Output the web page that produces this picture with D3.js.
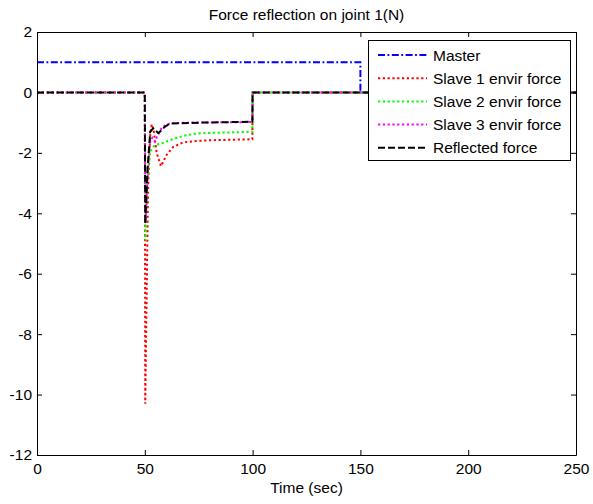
<!DOCTYPE html>
<html>
<head>
<meta charset="utf-8">
<script src="https://cdn.jsdelivr.net/npm/d3@7"></script>
<style>
  body { margin: 0; background: #fff; }
  text { font-family: "Liberation Sans", Arial, sans-serif; fill: #000; }
</style>
</head>
<body>
<script>
// Tidsvärden och serier
var masterT = [0, 150, 150, 250];
var masterV = [1, 1, 0, 0];

var slave1T = [0, 50, 50.2, 51.5, 52.5, 53.2, 54.2, 55.5, 57.5, 60.1, 63.2, 67.9, 75, 81.8, 99.9, 100, 250];
var slave1V = [0, 0, -10.3, -3.2, -1.4, -1.05, -1.3, -2.0, -2.44, -2.07, -1.8, -1.65, -1.6, -1.58, -1.55, 0, 0];

var slave2T = [0, 50, 50.3, 51, 52.4, 54.7, 57.8, 61.7, 66.3, 69.4, 75.6, 91, 99.9, 100, 250];
var slave2V = [0, 0, -4.9, -3.0, -1.96, -1.74, -1.69, -1.58, -1.47, -1.41, -1.35, -1.32, -1.3, 0, 0];

var slave3T = [0, 50, 50.3, 51.5, 52.5, 53.5, 54.7, 55.6, 58, 61.7, 70, 99.9, 100, 250];
var slave3V = [0, 0, -4.3, -2.5, -1.6, -1.5, -1.63, -1.47, -1.15, -1.02, -1.0, -0.98, 0, 0];

var reflT = [0, 50, 50.2, 51.3, 52.5, 53.9, 56.3, 59.4, 61.7, 75.6, 99.9, 100, 250];
var reflV = [0, 0, -4.35, -2.5, -1.3, -1.19, -1.35, -1.13, -1.03, -1.0, -0.97, 0, 0];

var xTicks = [0, 50, 100, 150, 200, 250];
var yTicks = [2, 0, -2, -4, -6, -8, -10, -12];
var legendNames = ["Master", "Slave 1 envir force", "Slave 2 envir force", "Slave 3 envir force", "Reflected force"];

drawChart();

function drawChart() {
var W = 593, H = 504;
// axlarnas kanter i pixlar
var pLeft = 37, pRight = 576, pTop = 32, pBottom = 455;
var fs = "15.5px";

var svg = d3.select("body").append("svg")
    .attr("width", W)
    .attr("height", H);

var xScale = d3.scaleLinear().domain([0, 250]).range([pLeft, pRight]);
var yScale = d3.scaleLinear().domain([-12, 2]).range([pBottom, pTop]);

// Serierna: färg och streckmönster som i MATLAB
var series = [
  { t: masterT, v: masterV, color: "#0000ff", dash: "7,2.5,1.8,2.5" },
  { t: slave1T, v: slave1V, color: "#ff0000", dash: "2.2,2.6" },
  { t: slave2T, v: slave2V, color: "#00ff00", dash: "2.2,2.6" },
  { t: slave3T, v: slave3V, color: "#ff00ff", dash: "2.2,2.6" },
  { t: reflT, v: reflV, color: "#000000", dash: "7,3" }
];

var line = d3.line()
    .x(function(d) { return xScale(d[0]); })
    .y(function(d) { return yScale(d[1]); });

svg.append("clipPath").attr("id", "clip")
  .append("rect").attr("x", pLeft).attr("y", pTop)
  .attr("width", pRight - pLeft).attr("height", pBottom - pTop);

series.forEach(function(s) {
  var pts = s.t.map(function(t, i) { return [t, s.v[i]]; });
  svg.append("path")
    .attr("d", line(pts))
    .attr("clip-path", "url(#clip)")
    .attr("fill", "none")
    .attr("stroke", s.color)
    .attr("stroke-width", 2)
    .attr("stroke-dasharray", s.dash);
});

// Axlar med ticks inåt på alla fyra sidor
var fmt = function(d) { return String(d); };
svg.append("g")
  .attr("transform", "translate(0," + pBottom + ")")
  .call(d3.axisBottom(xScale).tickValues(xTicks).tickFormat(fmt).tickSizeInner(-5).tickSizeOuter(0).tickPadding(8));
svg.append("g")
  .attr("transform", "translate(0," + pTop + ")")
  .call(d3.axisTop(xScale).tickValues(xTicks).tickFormat("").tickSizeInner(-5).tickSizeOuter(0));
svg.append("g")
  .attr("transform", "translate(" + pLeft + ",0)")
  .call(d3.axisLeft(yScale).tickValues(yTicks).tickFormat(fmt).tickSizeInner(-5).tickSizeOuter(0).tickPadding(5));
svg.append("g")
  .attr("transform", "translate(" + pRight + ",0)")
  .call(d3.axisRight(yScale).tickValues(yTicks).tickFormat("").tickSizeInner(-5).tickSizeOuter(0));

svg.selectAll(".tick text").style("font-size", fs).attr("fill", "#000");
svg.selectAll(".domain, .tick line").attr("stroke", "#000");

// Titel och axeltext
svg.append("text")
  .attr("x", (pLeft + pRight) / 2).attr("y", 20)
  .attr("text-anchor", "middle")
  .style("font-size", fs)
  .text("Force reflection on joint 1(N)");
svg.append("text")
  .attr("x", (pLeft + pRight) / 2).attr("y", 493)
  .attr("text-anchor", "middle")
  .style("font-size", fs)
  .text("Time (sec)");

// Legend
var lg = svg.append("g");
lg.append("rect")
  .attr("x", 368.5).attr("y", 40.5)
  .attr("width", 202).attr("height", 120)
  .attr("fill", "#fff").attr("stroke", "#000");

series.forEach(function(s, i) {
  var yy = 55 + i * 23.2;
  lg.append("line")
    .attr("x1", 378).attr("x2", 427)
    .attr("y1", yy).attr("y2", yy)
    .attr("stroke", s.color)
    .attr("stroke-width", 2)
    .attr("stroke-dasharray", s.dash);
  lg.append("text")
    .attr("x", 433).attr("y", yy + 5.5)
    .style("font-size", fs)
    .text(legendNames[i]);
});
}
</script>
</body>
</html>
